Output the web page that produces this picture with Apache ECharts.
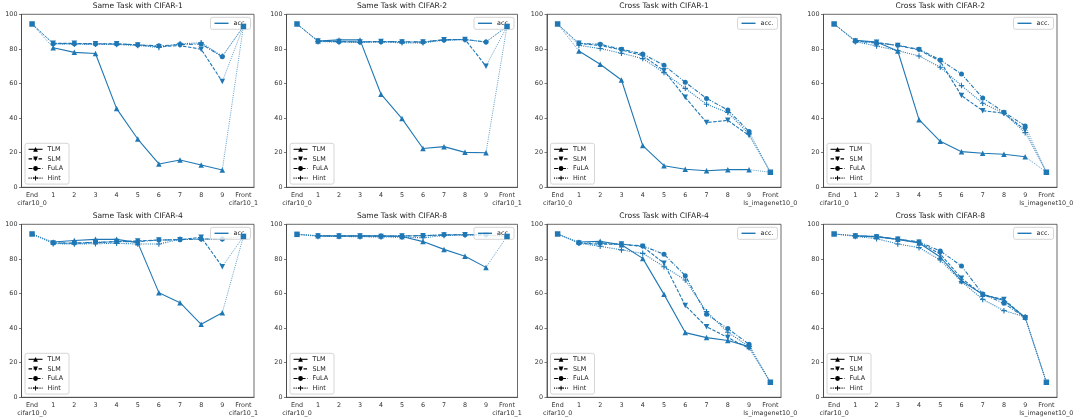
<!DOCTYPE html>
<html><head><meta charset="utf-8">
<script src="https://cdn.jsdelivr.net/npm/echarts@6/dist/echarts.min.js"></script>
<style>html,body{margin:0;padding:0;background:#fff}#c{width:1080px;height:420px}</style>
</head><body><div id="c"></div>
<script>
// ---------- DATA ----------
const catSame  = ['End\ncifar10_0','1','2','3','4','5','6','7','8','9','Front\ncifar10_1'];
const catCross = ['End\ncifar10_0','1','2','3','4','5','6','7','8','9','Front\nls_imagenet10_0'];
const methods = ['TLM','SLM','FuLA','Hint'];
const titles = ['Same Task with CIFAR-1','Same Task with CIFAR-2','Cross Task with CIFAR-1','Cross Task with CIFAR-2',
                'Same Task with CIFAR-4','Same Task with CIFAR-8','Cross Task with CIFAR-4','Cross Task with CIFAR-8'];

// acc. endpoints [End, Front]
const same1_acc  = [94.4, 93.0];
const same2_acc  = [94.4, 93.0];
const cross1_acc = [94.4, 8.7];
const cross2_acc = [94.4, 8.7];
const same4_acc  = [94.4, 93.0];
const same8_acc  = [94.2, 93.0];
const cross4_acc = [94.4, 8.7];
const cross8_acc = [94.4, 8.7];

// layers 1..9
const same1_TLM  = [80.7, 78.0, 77.3, 45.5, 27.9, 13.5, 15.8, 12.9, 10.0];
const same1_SLM  = [83.2, 83.2, 83.0, 83.0, 82.3, 81.3, 81.9, 79.8, 61.1];
const same1_FuLA = [83.0, 83.0, 82.8, 82.8, 82.3, 81.8, 82.5, 82.8, 75.5];
const same1_Hint = [83.0, 82.7, 82.7, 82.5, 82.0, 80.8, 83.0, 83.5, 75.8];

const same2_TLM  = [84.6, 85.2, 85.2, 53.8, 39.7, 22.4, 23.5, 20.2, 20.0];
const same2_SLM  = [84.5, 84.3, 84.0, 84.3, 84.0, 84.0, 85.3, 85.5, 70.0];
const same2_FuLA = [84.5, 84.2, 84.0, 84.2, 84.2, 84.0, 85.2, 85.5, 84.0];
const same2_Hint = [84.2, 84.0, 83.8, 84.0, 83.5, 83.5, 85.0, 85.3, 84.0];

const cross1_TLM  = [78.8, 71.1, 62.0, 24.1, 12.5, 10.4, 9.6, 10.2, 10.2];
const cross1_SLM  = [83.2, 81.9, 79.4, 76.1, 67.4, 52.0, 37.4, 38.7, 29.9];
const cross1_FuLA = [83.2, 82.7, 79.8, 77.1, 70.5, 60.7, 51.4, 44.7, 32.2];
const cross1_Hint = [82.1, 80.2, 77.5, 74.4, 66.3, 57.2, 48.0, 43.2, 30.8];

const cross2_TLM  = [85.0, 84.0, 78.8, 39.1, 26.6, 20.6, 19.7, 19.1, 17.7];
const cross2_SLM  = [84.6, 83.8, 81.9, 79.4, 72.8, 53.0, 44.3, 42.8, 33.1];
const cross2_FuLA = [84.4, 83.4, 82.1, 79.8, 73.6, 65.5, 51.6, 43.4, 35.5];
const cross2_Hint = [84.2, 81.7, 79.0, 75.9, 69.4, 58.8, 48.6, 42.8, 31.6];

const same4_TLM  = [89.8, 90.6, 91.3, 91.3, 89.4, 60.5, 54.7, 42.2, 48.9];
const same4_SLM  = [89.2, 89.0, 89.4, 90.0, 90.4, 90.9, 91.1, 92.5, 75.5];
const same4_FuLA = [89.2, 89.2, 89.6, 90.0, 90.0, 90.9, 91.1, 91.5, 91.5];
const same4_Hint = [88.8, 88.6, 88.8, 89.0, 88.6, 88.6, 91.3, 91.3, 91.5];

const same8_TLM  = [93.4, 93.2, 93.3, 93.3, 93.0, 90.0, 85.5, 81.5, 75.1];
const same8_SLM  = [93.3, 93.2, 93.2, 93.0, 93.2, 93.4, 93.8, 94.0, 93.8];
const same8_FuLA = [93.4, 93.3, 93.3, 93.2, 93.3, 93.5, 93.9, 94.0, 94.0];
const same8_Hint = [93.0, 93.0, 92.8, 92.7, 92.5, 92.2, 93.5, 93.8, 94.0];

const cross4_TLM  = [89.8, 90.2, 88.2, 80.3, 59.5, 37.4, 34.5, 32.8, 29.3];
const cross4_SLM  = [89.2, 88.4, 88.6, 87.1, 77.5, 53.0, 40.8, 34.5, 28.3];
const cross4_FuLA = [89.2, 89.2, 88.4, 87.5, 82.7, 70.3, 48.0, 39.7, 30.6];
const cross4_Hint = [89.0, 87.3, 85.2, 83.2, 75.5, 67.8, 49.5, 37.6, 29.3];

const cross8_TLM  = [93.4, 92.9, 91.3, 89.2, 81.1, 67.4, 59.5, 55.9, 46.2];
const cross8_SLM  = [93.3, 92.7, 91.3, 89.6, 82.8, 68.8, 59.2, 56.6, 46.0];
const cross8_FuLA = [93.4, 92.9, 91.5, 89.8, 84.6, 75.9, 59.7, 54.3, 46.0];
const cross8_Hint = [93.0, 91.7, 88.6, 86.5, 79.4, 66.9, 56.6, 50.1, 46.5];

const panels = [
  {cat: catSame,  acc: same1_acc,  d: [same1_TLM, same1_SLM, same1_FuLA, same1_Hint]},
  {cat: catSame,  acc: same2_acc,  d: [same2_TLM, same2_SLM, same2_FuLA, same2_Hint]},
  {cat: catCross, acc: cross1_acc, d: [cross1_TLM, cross1_SLM, cross1_FuLA, cross1_Hint]},
  {cat: catCross, acc: cross2_acc, d: [cross2_TLM, cross2_SLM, cross2_FuLA, cross2_Hint]},
  {cat: catSame,  acc: same4_acc,  d: [same4_TLM, same4_SLM, same4_FuLA, same4_Hint]},
  {cat: catSame,  acc: same8_acc,  d: [same8_TLM, same8_SLM, same8_FuLA, same8_Hint]},
  {cat: catCross, acc: cross4_acc, d: [cross4_TLM, cross4_SLM, cross4_FuLA, cross4_Hint]},
  {cat: catCross, acc: cross8_acc, d: [cross8_TLM, cross8_SLM, cross8_FuLA, cross8_Hint]}
];

// ---------- STYLE / LAYOUT ----------
const BLUE = '#1f77b4';
const FONT = 'DejaVu Sans';
const colLeft  = [21.5, 286.5, 547, 823.5];
const colWidth = [232.5, 231, 234, 233.5];
const rowTop = [14.3, 224.3];
const plotH = 173;
const mStyle = {
  TLM:  {symbol: 'path://M5,0L10,9H0Z', size: 5.5, type: 'solid'},
  SLM:  {symbol: 'path://M0,0H10L5,9Z', size: 5.5, type: [3.5, 1.5]},
  FuLA: {symbol: 'circle', size: 5, type: [4, 1.5, 1, 1.5]},
  Hint: {symbol: 'path://M4,0H6V4H10V6H6V10H4V6H0V4H4Z', size: 5.5, type: [1, 1.2]}
};

const grid = [], xAxis = [], yAxis = [], series = [], title = [], legend = [];
panels.forEach((p, i) => {
  const col = i % 4, row = Math.floor(i / 4);
  const L = colLeft[col], W = colWidth[col], T = rowTop[row];
  grid.push({left: L, top: T, width: W, height: plotH, show: true, borderColor: '#444', borderWidth: 0.8, backgroundColor: 'transparent'});
  xAxis.push({type: 'category', gridIndex: i, data: p.cat, boundaryGap: true,
    axisLine: {lineStyle: {color: '#444', width: 0.8}},
    axisTick: {alignWithLabel: true, length: 2.5, lineStyle: {color: '#444', width: 0.7}},
    axisLabel: {interval: 0, fontSize: 6.4, fontFamily: FONT, color: '#333', margin: 3.5, lineHeight: 8.5},
    splitLine: {show: false}});
  yAxis.push({type: 'value', gridIndex: i, min: 0, max: 100, interval: 20,
    axisLine: {show: true, lineStyle: {color: '#444', width: 0.8}},
    axisTick: {show: true, length: 2.5, lineStyle: {color: '#444', width: 0.7}},
    axisLabel: {fontSize: 6.4, fontFamily: FONT, color: '#333', margin: 4},
    splitLine: {show: false}});
  title.push({text: titles[i], left: L + W / 2, top: T - 12, textAlign: 'center',
    textStyle: {fontSize: 7.6, fontWeight: 'normal', fontFamily: FONT, color: '#222'}, padding: 0});
  methods.forEach((m, k) => {
    const st = mStyle[m];
    const main = [null].concat(p.d[k]).concat([null]);
    series.push({name: m, type: 'line', xAxisIndex: i, yAxisIndex: i, data: main,
      symbol: st.symbol, symbolSize: st.size, showSymbol: true, connectNulls: false,
      itemStyle: {color: BLUE}, lineStyle: {color: BLUE, width: 1.1, type: st.type}, z: 3});
    const conn = [p.acc[0], p.d[k][0], null, null, null, null, null, null, null, p.d[k][8], p.acc[1]];
    series.push({name: m + '_link', type: 'line', xAxisIndex: i, yAxisIndex: i, data: conn,
      symbol: 'none', connectNulls: false, silent: true,
      lineStyle: {color: BLUE, width: 0.9, type: [1, 1.2], opacity: 0.8}, z: 2});
  });
  series.push({name: 'acc.', type: 'line', xAxisIndex: i, yAxisIndex: i,
    data: [p.acc[0], null, null, null, null, null, null, null, null, null, p.acc[1]],
    symbol: 'rect', symbolSize: 5.5, connectNulls: false,
    itemStyle: {color: BLUE}, lineStyle: {color: BLUE, width: 1}, z: 4});
  legend.push({orient: 'vertical', left: L + 3.5, top: T + plotH - 44,
    data: methods.map(m => ({name: m, itemStyle: {color: '#000'}, lineStyle: {color: '#000', width: 1.1}})),
    itemWidth: 14, itemHeight: 6, itemGap: 3.6, selectedMode: false,
    textStyle: {fontSize: 6.4, fontFamily: FONT, color: '#222'},
    backgroundColor: 'rgba(255,255,255,0.8)', borderColor: '#ccc', borderWidth: 0.8, borderRadius: 2,
    padding: [3, 6, 3, 3]});
  legend.push({orient: 'vertical', right: 1080 - (L + W) + 3.5, top: T + 3,
    data: [{name: 'acc.', icon: 'rect'}],
    itemWidth: 14, itemHeight: 1.4, selectedMode: false,
    textStyle: {fontSize: 6.4, fontFamily: FONT, color: '#222'},
    backgroundColor: 'rgba(255,255,255,0.8)', borderColor: '#ccc', borderWidth: 0.8, borderRadius: 2,
    padding: [3, 4, 3, 4]});
});

const chart = echarts.init(document.getElementById('c'), null, {renderer: 'canvas'});
chart.setOption({animation: false, backgroundColor: '#fff', title, grid, xAxis, yAxis, legend, series});
</script>
</body></html>
